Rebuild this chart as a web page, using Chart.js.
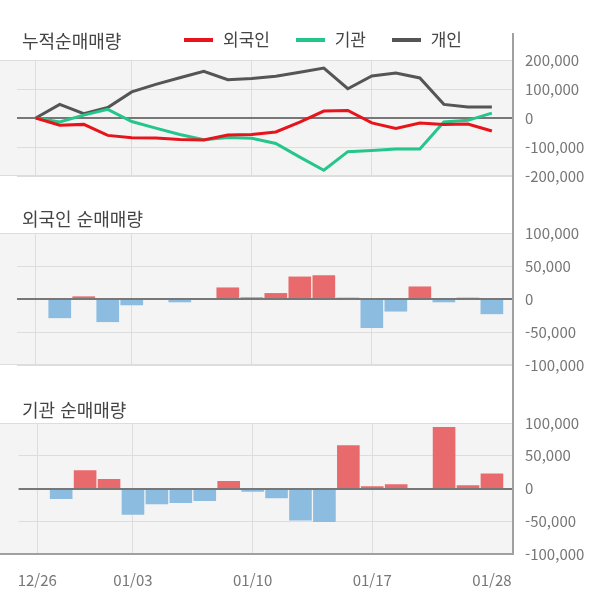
<!DOCTYPE html>
<html lang="ko">
<head>
<meta charset="UTF-8">
<title>순매매량</title>
<script src="https://cdn.jsdelivr.net/npm/chart.js"></script>
<style>
    body { margin: 0; background: #fff; font-family: "Noto Sans CJK KR", sans-serif; }
    #wrap { position: relative; width: 600px; height: 604px; overflow: hidden; }
    canvas { position: absolute; left: 0; }
    .title { position: absolute; left: 22px; font-size: 18px; color: #444; line-height: 20px; }
    #legend { position: absolute; left: 184px; top: 29px; font-size: 17px; color: #444; line-height: 20px; }
    #legend span.item { margin-right: 21px; }
    #legend i { display: inline-block; width: 29px; height: 4px; vertical-align: middle; margin-right: 10px; position: relative; top: -1px; }
    #axisLine { position: absolute; left: 512px; top: 33px; width: 2px; height: 522px; background: #a0a0a0; }
</style>
</head>
<body>
<div id="wrap">
    <canvas id="cumChart" width="600" height="200" style="top:0"></canvas>
    <canvas id="frgChart" width="600" height="190" style="top:200px"></canvas>
    <canvas id="insChart" width="600" height="214" style="top:390px"></canvas>
    <div class="title" style="top:30px">누적순매매량</div>
    <div class="title" style="top:208px">외국인 순매매량</div>
    <div class="title" style="top:399px">기관 순매매량</div>
    <div id="legend">
        <span class="item"><i style="background:#e8141b"></i>외국인</span>
        <span class="item"><i style="background:#25c68c"></i>기관</span>
        <span class="item"><i style="background:#555"></i>개인</span>
    </div>
    <div id="axisLine"></div>
</div>

<script>
    // trading days
    const dates = ['12/26', '12/27', '12/30', '01/02', '01/03', '01/06', '01/07', '01/08', '01/09', '01/10',
                   '01/13', '01/14', '01/15', '01/16', '01/17', '01/20', '01/21', '01/22', '01/23', '01/28'];
    const tickIdx = [0, 4, 9, 14, 19];

    // cumulative net buying
    const cumForeign = [0, -25000, -22000, -60000, -68000, -69000, -74000, -76000, -59000, -57000,
                        -48000, -14000, 24000, 26000, -17000, -36000, -17000, -22000, -21000, -45000];
    const cumInst = [0, -14000, 10000, 30000, -12000, -35000, -57000, -75000, -67000, -70000,
                     -88000, -135000, -180000, -116000, -112000, -107000, -107000, -14000, -8000, 17000];
    const cumIndiv = [0, 47000, 15000, 36000, 90000, 116000, 139000, 161000, 132000, 136000,
                      144000, 158000, 172000, 101000, 145000, 155000, 138000, 47000, 38000, 38000];

    // daily net buying
    const foreignNet = [0, -29000, 4000, -35000, -9500, 0, -5000, 0, 17500, 2500,
                        9000, 34000, 36000, 2000, -44000, -19000, 19000, -5000, 2000, -23000];
    const instNet = [0, -16000, 28000, 14500, -40000, -24000, -22000, -19000, 11500, -5000,
                     -15000, -49000, -51000, 66000, 3500, 6500, 0, 94000, 5000, 23000];

    const RED = 'rgb(232,106,108)';
    const BLUE = 'rgb(140,188,224)';

    const panelPlugin = {
        id: 'panel',
        beforeDraw(chart, args, opts) {
            const { ctx, chartArea: a } = chart;
            ctx.save();
            ctx.fillStyle = '#f4f4f4';
            ctx.fillRect(0, a.top, a.right, a.bottom - a.top);
            ctx.restore();
        },
        beforeDatasetsDraw(chart, args, opts) {
            if (!opts.zeroOnTop) drawZero(chart);
        },
        afterDatasetsDraw(chart, args, opts) {
            if (opts.zeroOnTop) drawZero(chart);
        },
        afterDraw(chart, args, opts) {
            const { ctx, chartArea: a } = chart;
            ctx.save();
            ctx.strokeStyle = '#ddd';
            ctx.lineWidth = 1;
            ctx.beginPath();
            ctx.moveTo(0, a.top + 0.5); ctx.lineTo(a.right, a.top + 0.5);
            if (!opts.thickBottom) { ctx.moveTo(0, a.bottom - 0.5); ctx.lineTo(a.right, a.bottom - 0.5); }
            ctx.stroke();
            if (opts.thickBottom) {
                ctx.strokeStyle = '#a0a0a0';
                ctx.lineWidth = 2;
                ctx.beginPath();
                ctx.moveTo(0, a.bottom); ctx.lineTo(a.right, a.bottom);
                ctx.stroke();
            }
            ctx.restore();
        }
    };

    function drawZero(chart) {
        const { ctx, chartArea: a } = chart;
        const y = Math.round(chart.scales.y.getPixelForValue(0));
        ctx.save();
        ctx.strokeStyle = '#777';
        ctx.lineWidth = 2;
        ctx.beginPath();
        ctx.moveTo(a.left, y); ctx.lineTo(a.right, y);
        ctx.stroke();
        ctx.restore();
    }

    function xScale(showLabels) {
        return {
            type: 'linear',
            offset: false,
            min: -0.78,
            max: 19.88,
            afterBuildTicks: s => { s.ticks = tickIdx.map(v => ({ value: v })); },
            afterFit: s => { s.height = showLabels ? 50 : 0; },
            grid: {
                offset: false,
                drawTicks: false,
                color: c => c.index === tickIdx.length - 1 ? 'rgba(0,0,0,0)' : '#ddd'
            },
            border: { display: false },
            ticks: {
                display: showLabels,
                padding: 17,
                color: '#777',
                font: { family: 'Noto Sans CJK KR', size: 15 },
                maxRotation: 0,
                autoSkip: false,
                callback: v => dates[v]
            }
        };
    }

    function yScale(lim, step) {
        return {
            position: 'right',
            min: -lim,
            max: lim,
            afterBuildTicks: s => {
                const t = [];
                for (let v = -lim; v <= lim; v += step) t.push({ value: v });
                s.ticks = t;
            },
            afterFit: s => { s.width = 87; },
            grid: { drawTicks: false, color: c => c.tick.value === 0 ? 'rgba(0,0,0,0)' : '#ddd' },
            border: { display: false },
            ticks: {
                padding: 12,
                color: '#777',
                font: { family: 'Noto Sans CJK KR', size: 15 },
                callback: v => v.toLocaleString('en-US')
            }
        };
    }

    const pts = arr => arr.map((v, i) => ({ x: i, y: v }));

    function lineSet(label, arr, color) {
        return { label, data: pts(arr), borderColor: color, borderWidth: 3, pointRadius: 0, tension: 0, fill: false };
    }

    new Chart(document.getElementById('cumChart'), {
        type: 'line',
        data: {
            datasets: [
                lineSet('외국인', cumForeign, '#e8141b'),
                lineSet('기관', cumInst, '#25c68c'),
                lineSet('개인', cumIndiv, '#555')
            ]
        },
        options: {
            responsive: false,
            animation: false,
            layout: { padding: { left: 17, top: 60, bottom: 24, right: 0 } },
            plugins: { legend: { display: false }, tooltip: { enabled: false }, panel: { zeroOnTop: false } },
            scales: { x: xScale(false), y: yScale(200000, 100000) }
        },
        plugins: [panelPlugin]
    });

    function barChart(id, arr, padTop, padBottom, showLabels) {
        return new Chart(document.getElementById(id), {
            type: 'bar',
            data: {
                datasets: [{
                    data: pts(arr),
                    backgroundColor: c => (c.raw && c.raw.y < 0) ? BLUE : RED,
                    categoryPercentage: 1,
                    barPercentage: 0.945
                }]
            },
            options: {
                responsive: false,
                animation: false,
                layout: { padding: { left: 17, top: padTop, bottom: padBottom, right: 0 } },
                plugins: { legend: { display: false }, tooltip: { enabled: false },
                           panel: { zeroOnTop: true, thickBottom: showLabels } },
                scales: { x: xScale(showLabels), y: yScale(100000, 50000) }
            },
            plugins: [panelPlugin]
        });
    }

    barChart('frgChart', foreignNet, 33, 25, false);
    barChart('insChart', instNet, 33, 0, true);
</script>
</body>
</html>
